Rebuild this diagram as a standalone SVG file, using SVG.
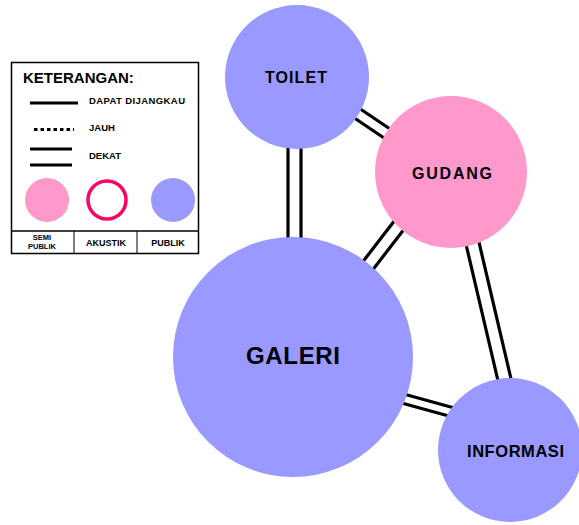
<svg xmlns="http://www.w3.org/2000/svg" width="579" height="525" viewBox="0 0 579 525">
<style>
.ln{stroke:#000;stroke-width:3.2;fill:none}
.pub{fill:#9999FF}
.semi{fill:#FF99CC}
.t{font-family:"Liberation Sans",Arial,sans-serif;font-weight:bold;fill:#000}
</style>
<rect width="579" height="525" fill="#fff"/>
<g id="connectors">
<line class="ln" x1="288" y1="140" x2="288" y2="245"/>
<line class="ln" x1="301" y1="140" x2="301" y2="245"/>
<line class="ln" x1="350" y1="102" x2="393" y2="131"/>
<line class="ln" x1="344" y1="111" x2="387" y2="140"/>
<line class="ln" x1="395" y1="220" x2="358" y2="268"/>
<line class="ln" x1="405" y1="228" x2="368" y2="276"/>
<line class="ln" x1="465" y1="240" x2="499" y2="385"/>
<line class="ln" x1="478" y1="238" x2="512" y2="383"/>
<line class="ln" x1="400" y1="393" x2="458" y2="409"/>
<line class="ln" x1="398" y1="402" x2="456" y2="418"/>
</g>
<g id="toilet">
<circle class="pub" cx="297" cy="77" r="72"/>
<text class="t" x="265" y="83" font-size="16" textLength="62" lengthAdjust="spacing">TOILET</text>
</g>
<g id="gudang">
<circle class="semi" cx="451" cy="172" r="76"/>
<text class="t" x="412" y="179" font-size="16" textLength="80" lengthAdjust="spacing">GUDANG</text>
</g>
<g id="galeri">
<circle class="pub" cx="293" cy="357" r="120"/>
<text class="t" x="246" y="364" font-size="24" textLength="94" lengthAdjust="spacing">GALERI</text>
</g>
<g id="informasi">
<circle class="pub" cx="510" cy="450" r="72"/>
<text class="t" x="467" y="457" font-size="16.5" textLength="97" lengthAdjust="spacing">INFORMASI</text>
</g>
<g id="legend">
<rect x="11.5" y="62.5" width="187" height="191" fill="#fff" stroke="#000" stroke-width="1.5"/>
<line x1="11.5" y1="231" x2="198.5" y2="231" stroke="#000" stroke-width="1.5"/>
<line x1="74" y1="231" x2="74" y2="253.5" stroke="#000" stroke-width="1"/>
<line x1="137" y1="231" x2="137" y2="253.5" stroke="#000" stroke-width="1"/>
<text class="t" x="23" y="83" font-size="15">KETERANGAN:</text>
<line class="ln" x1="30" y1="103" x2="78" y2="103"/>
<text class="t" x="89" y="104" font-size="9.5" textLength="96" lengthAdjust="spacing">DAPAT DIJANGKAU</text>
<line class="ln" x1="34" y1="129.5" x2="74" y2="129.5" stroke-dasharray="3.5 3"/>
<text class="t" x="89" y="131" font-size="9.5">JAUH</text>
<line class="ln" x1="30" y1="149" x2="72" y2="149"/>
<line class="ln" x1="30" y1="165" x2="72" y2="165"/>
<text class="t" x="89" y="159" font-size="9.5">DEKAT</text>
<circle class="semi" cx="47" cy="200" r="22"/>
<circle cx="107" cy="200" r="19" fill="#fff" stroke="#FF0066" stroke-width="3.5"/>
<circle class="pub" cx="173" cy="200" r="22"/>
<text class="t" x="42" y="240" font-size="7.5" text-anchor="middle">SEMI</text>
<text class="t" x="42" y="249" font-size="7.5" text-anchor="middle">PUBLIK</text>
<text class="t" x="106" y="246" font-size="9" text-anchor="middle">AKUSTIK</text>
<text class="t" x="168" y="246" font-size="9" text-anchor="middle">PUBLIK</text>
</g>
</svg>
